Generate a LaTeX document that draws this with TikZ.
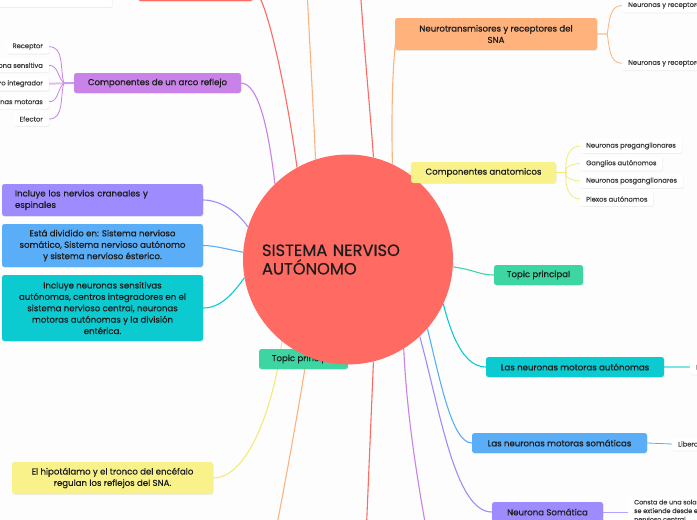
\documentclass[tikz,border=0pt]{standalone}
\usepackage{fontspec}
\setmainfont{Poppins}[FakeBold=0.6]
\usetikzlibrary{shadows}
\definecolor{cred}{HTML}{FF6B63}
\definecolor{corg}{HTML}{FFB27C}
\definecolor{cpur}{HTML}{C882E8}
\definecolor{cpurl}{HTML}{E2BDF3}
\definecolor{cyel}{HTML}{F9F28B}
\definecolor{cyell}{HTML}{F5EA78}
\definecolor{cgrn}{HTML}{3DD6A3}
\definecolor{ccya}{HTML}{0BCBD1}
\definecolor{ccyal}{HTML}{80E3E6}
\definecolor{cblu}{HTML}{5AAEF7}
\definecolor{clav}{HTML}{9E8CFF}
\definecolor{ctxt}{HTML}{1C1C1C}
\definecolor{cbg}{HTML}{FDFDFD}
\pgfdeclarelayer{bg}
\pgfdeclarelayer{mid}
\pgfsetlayers{bg,mid,main}
\tikzset{
  shad/.style={drop shadow={opacity=0.13,shadow xshift=0.5pt,shadow yshift=-0.9pt}},
  branch/.style={rounded corners=2.5pt, inner sep=0pt, font=\fontsize{8.6}{11.4}\selectfont, text=ctxt, align=center, shad},
  leaf/.style={rounded corners=2pt, fill=white, inner xsep=6pt, inner ysep=0pt, minimum height=14pt, font=\fontsize{6.7}{8.4}\selectfont, text=ctxt!85, shad},
  link/.style={line width=1.1pt}
}
\begin{document}
\begin{tikzpicture}[x=1pt,y=-1pt]
\useasboundingbox (0,0) rectangle (697,520);
\clip (0,0) rectangle (697,520);
\begin{pgfonlayer}{bg}
\fill[cbg] (0,0) rectangle (697,520);
\end{pgfonlayer}

% central topic
\node[circle, fill=cred, minimum size=210pt, inner sep=0pt, text width=172pt, align=left,
      font=\fontsize{16.3}{18.5}\selectfont, text=ctxt] (C) at (348,259.5) {SISTEMA NERVISO\\AUTÓNOMO};

% top partial nodes
\node[leaf, minimum width=118pt, minimum height=30pt] (wtop) at (53,-8) {};
\node[branch, fill=cred, minimum width=115pt, minimum height=22pt] (redtop) at (195.5,-10) {};
\coordinate (otop) at (306,-30);
\coordinate (rtop) at (359,-30);
\coordinate (obot) at (272,550);
\coordinate (rbot) at (365.5,550);
\coordinate (pbot) at (430,550);

% arco reflejo
\node[branch, fill=cpur, minimum width=167pt, minimum height=20pt] (arco) at (157.5,83) {Componentes de un arco reflejo};
\node[leaf, anchor=east] (a1) at (49,46.7) {Receptor};
\node[leaf, anchor=east] (a2) at (49,65.3) {Neurona sensitiva};
\node[leaf, anchor=east] (a3) at (49,83.7) {Centro integrador};
\node[leaf, anchor=east] (a4) at (49,101.8) {Neuronas motoras};
\node[leaf, anchor=east] (a5) at (49,119) {Efector};

% neurotransmisores
\node[branch, fill=corg, minimum width=202pt, minimum height=32pt] (neuro) at (496,34) {Neurotransmisores y receptores del\\SNA};
\node[leaf, anchor=west] (nr1) at (622,5.5) {Neuronas y receptores};
\node[leaf, anchor=west] (nr2) at (622,63.3) {Neuronas y receptores};

% componentes anatomicos
\node[branch, fill=cyel, minimum width=145pt, minimum height=21pt] (anat) at (483.5,172.5) {Componentes anatomicos};
\node[leaf, anchor=west] (an1) at (580,146) {Neuronas preganglionares};
\node[leaf, anchor=west] (an2) at (580,163.5) {Ganglios autónomos};
\node[leaf, anchor=west] (an3) at (580,181) {Neuronas posganglionares};
\node[leaf, anchor=west] (an4) at (580,199) {Plexos autónomos};

% right branches
\node[branch, fill=cgrn, minimum width=89pt, minimum height=20pt] (topicR) at (538.5,275) {Topic principal};
\node[branch, fill=ccya, minimum width=178pt, minimum height=20pt] (auton) at (575,367) {Las neuronas motoras autónomas};
\node[leaf, anchor=west, minimum height=15pt] (au1) at (690,367) {Liberan};
\node[branch, fill=cblu, minimum width=175pt, minimum height=20pt] (somat) at (559.5,443) {Las neuronas motoras somáticas};
\node[leaf, anchor=west, minimum height=13pt] (so1) at (672,444) {Liberan};
\node[branch, fill=clav, minimum width=111pt, minimum height=20pt] (neuS) at (547.5,512) {Neurona Somática};
\node[leaf, anchor=north west, align=left, inner ysep=2.5pt, font=\fontsize{6.4}{8.6}\selectfont] (ns1) at (628,497) {Consta de una sola neurona\\se extiende desde el sistema\\nervioso central};

% left branches
\node[branch, fill=clav, minimum width=201pt, minimum height=32pt, text width=175pt, inner xsep=13pt, align=left] (inc1) at (102.5,200) {Incluye los nervios craneales y\\espinales};
\node[branch, fill=cblu, minimum width=201pt, minimum height=43pt] (div) at (102.5,245.5) {Está dividido en: Sistema nervioso\\somático, Sistema nervioso autónomo\\y sistema nervioso ésterico.};
\node[branch, fill=ccya, minimum width=201pt, minimum height=66pt] (incN) at (102.5,308) {Incluye neuronas sensitivas\\autónomas, centros integradores en el\\sistema nervioso central, neuronas\\motoras autónomas y la división\\entérica.};
\node[branch, fill=cyel, minimum width=201pt, minimum height=32pt] (hipo) at (112.5,478) {El hipotálamo y el tronco del encéfalo\\regulan los reflejos del SNA.};

\begin{pgfonlayer}{mid}
\node[branch, fill=cgrn, minimum width=89pt, minimum height=20pt] (topicL) at (303.5,359) {Topic principal};
\end{pgfonlayer}

\begin{pgfonlayer}{bg}
% top connectors
\draw[link, cpur] (C.134) .. controls (268,125) and (258,84) .. (arco.east);
\draw[link, cred] (C.119) .. controls (288,100) and (266,-10) .. (redtop.east);
\draw[link, corg] (C.108) .. controls (314,120) and (310,50) .. (otop);
\draw[link, cred] (C.76) .. controls (371,120) and (364,50) .. (rtop);
\draw[link, corg] (C.65) .. controls (391,110) and (393,55) .. ([xshift=2pt]neuro.west);
\draw[link, cyel] (C.55) .. controls (409,172) .. (anat.west);
% bottom connectors
\draw[link, corg] (C.-113) .. controls (300,400) and (286,480) .. (obot);
\draw[link, cred] (C.-76) .. controls (371,420) and (368,490) .. (rbot);
\draw[link, cpur] (C.-58) .. controls (407,420) and (419,490) .. (pbot);
\draw[link, cyell] (C.-129) .. controls (275,400) and (250,478) .. (hipo.east);
% right connectors
\draw[link, cgrn] (C.-4) .. controls (475,270) and (480,275) .. (topicR.west);
\draw[link, ccya] (C.-25) .. controls (450,330) and (462,367) .. (auton.west);
\draw[link, cblu] (C.-41) .. controls (440,380) and (452,443) .. (somat.west);
\draw[link, clav] (C.-47) .. controls (440,410) and (455,512) .. (neuS.west);
% left connectors
\draw[link, clav] (C.162) .. controls (238,212) and (220,200) .. (inc1.east);
\draw[link, cblu] (C.176) .. controls (230,250) and (215,245.5) .. (div.east);
\draw[link, ccya] (C.190) .. controls (232,295) and (220,308) .. (incN.east);
% sub connectors
\draw[cpur, line width=0.8pt] (arco.west) -- ++(-10,0) to[out=105,in=0] (a1.east);
\draw[cpur, line width=0.8pt] (arco.west) -- ++(-10,0) to[out=135,in=0] (a2.east);
\draw[cpurl, line width=2pt] (arco.west) -- (a3.east);
\draw[cpur, line width=0.8pt] (arco.west) -- ++(-10,0) to[out=225,in=0] (a4.east);
\draw[cpur, line width=0.8pt] (arco.west) -- ++(-10,0) to[out=255,in=0] (a5.east);
\draw[corg, line width=0.8pt] (neuro.east) -- ++(10,0) to[out=80,in=180] (nr1.west);
\draw[corg, line width=0.8pt] (neuro.east) -- ++(10,0) to[out=-80,in=180] (nr2.west);
\draw[cyell, line width=0.8pt] (anat.east) -- ++(10,0) to[out=100,in=180] (an1.west);
\draw[cyell, line width=0.8pt] (anat.east) -- ++(10,0) to[out=135,in=180] (an2.west);
\draw[cyell, line width=0.8pt] (anat.east) -- ++(10,0) to[out=-135,in=180] (an3.west);
\draw[cyell, line width=0.8pt] (anat.east) -- ++(10,0) to[out=-100,in=180] (an4.west);
\draw[ccyal, line width=1.8pt] (auton.east) -- (au1.west);
\draw[cblu, line width=0.8pt] (somat.east) -- (so1.west);
\draw[clav!80, line width=1pt] (neuS.east) -- (neuS.east -| ns1.west);
\end{pgfonlayer}
\end{tikzpicture}
\end{document}
